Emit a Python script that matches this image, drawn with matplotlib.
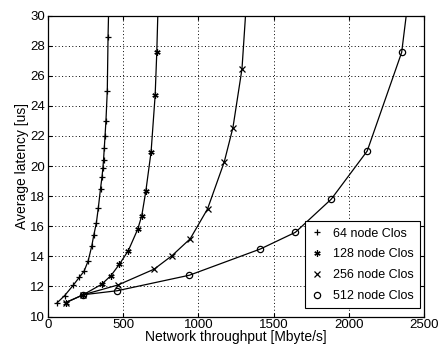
import matplotlib
matplotlib.use('Agg')
import matplotlib.pyplot as plt

plt.rcParams['font.family'] = ['Liberation Sans', 'DejaVu Sans']

# throughput [Mbyte/s] vs latency [us]
x64 = [60, 112, 170, 208, 240, 268, 292, 305, 322, 335, 350, 360, 366, 370, 375, 380, 386, 395, 400, 410]
y64 = [10.9, 11.4, 12.1, 12.6, 13.0, 13.7, 14.7, 15.4, 16.2, 17.2, 18.5, 19.3, 19.9, 20.4, 21.2, 22.0, 23.0, 25.0, 28.6, 33.0]

x128 = [118, 235, 358, 420, 475, 535, 597, 624, 651, 686, 713, 724, 736]
y128 = [10.93, 11.45, 12.15, 12.73, 13.47, 14.39, 15.8, 16.7, 18.33, 20.95, 24.7, 27.6, 32.0]

x256 = [120, 235, 466, 706, 824, 946, 1061, 1172, 1230, 1290, 1330]
y256 = [10.93, 11.45, 12.1, 13.15, 14.04, 15.17, 17.15, 20.27, 22.56, 26.46, 32.5]

x512 = [235, 462, 941, 1412, 1645, 1883, 2122, 2351, 2400]
y512 = [11.45, 11.72, 12.75, 14.49, 15.6, 17.8, 21.0, 27.55, 31.5]

labels = ['64 node Clos', '128 node Clos', '256 node Clos', '512 node Clos']
markers = ['+', (6, 2, 0), 'x', 'o']

fig = plt.figure(figsize=(4.39, 3.46), dpi=100)
ax = fig.add_axes([0.109, 0.085, 0.857, 0.870])

series = [(x64, y64), (x128, y128), (x256, y256), (x512, y512)]
for (xs, ys), lab, m in zip(series, labels, markers):
    ax.plot(xs, ys, color='black', lw=0.9)
    # markers drawn separately so the legend shows only the symbol
    ax.plot(xs, ys, ls='none', marker=m, ms=4.5, mec='black', mfc='none',
            mew=0.9, label=lab)

ax.set_xlim(0, 2500)
ax.set_ylim(10, 30)
ax.set_xticks(range(0, 2501, 500))
ax.set_yticks(range(10, 31, 2))
ax.grid(True, color='black', ls=(0, (1, 2.5)), lw=0.7)
ax.tick_params(direction='in', length=3, labelsize=9.5, pad=2, top=True, right=True,
               labeltop=False, labelright=False)
for s in ax.spines.values():
    s.set_linewidth(0.9)

ax.set_xlabel('Network throughput [Mbyte/s]', fontsize=10, labelpad=-1)
ax.set_ylabel('Average latency [us]', fontsize=10, labelpad=1)

leg = ax.legend(loc='lower right', bbox_to_anchor=(0.99, 0.028), fontsize=9,
                handlelength=1.0, handletextpad=0.8,
                fancybox=False, framealpha=1, edgecolor='black',
                borderaxespad=0, labelspacing=0.7, borderpad=0.5)
leg.get_frame().set_linewidth(0.8)

plt.savefig('out.png', dpi=100)
